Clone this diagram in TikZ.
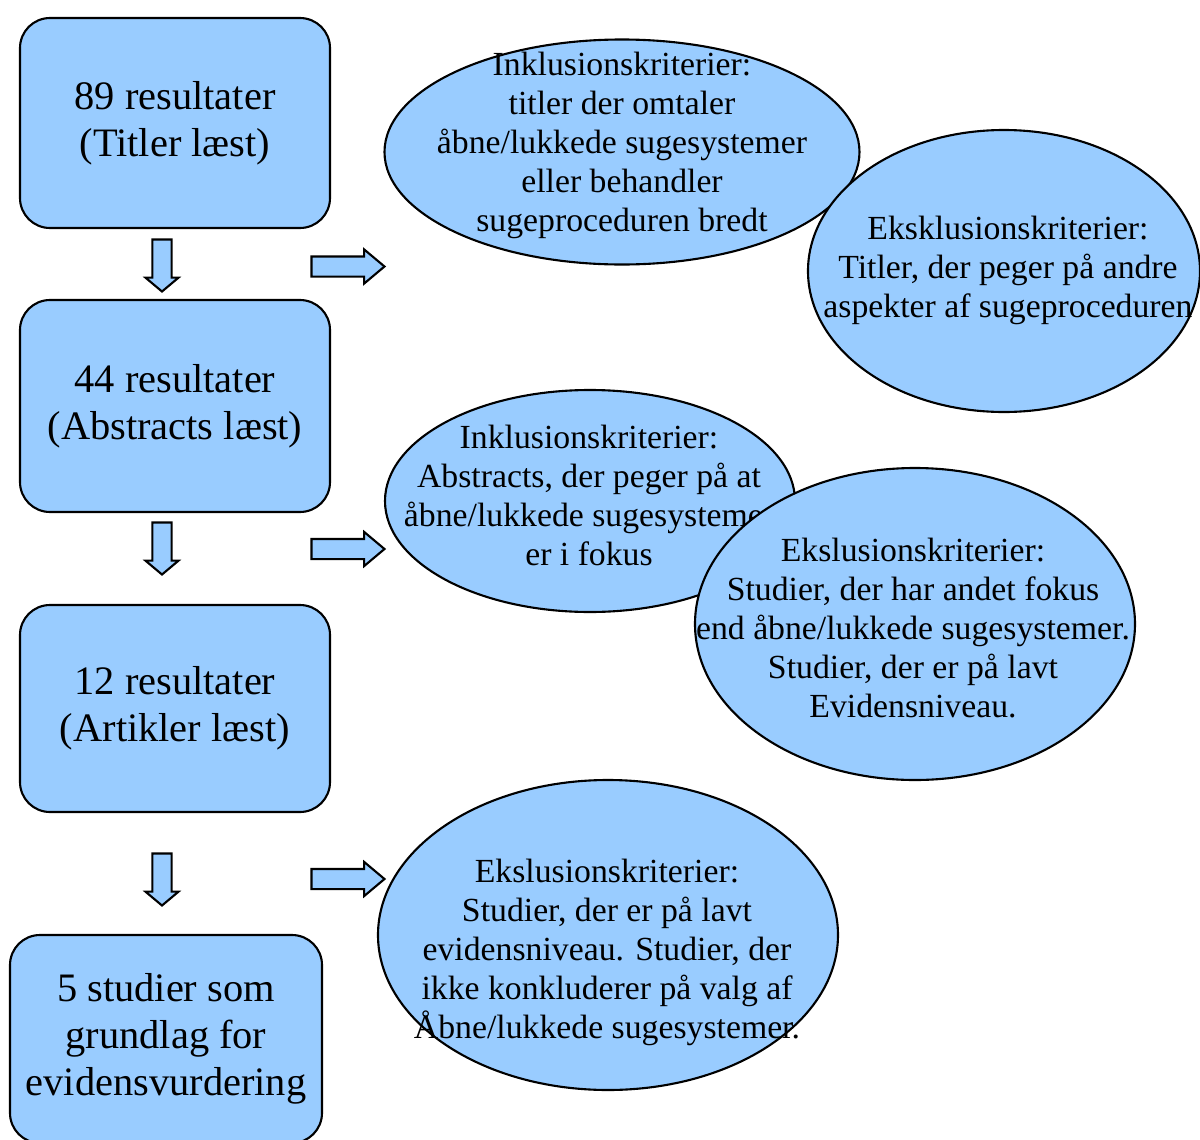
\documentclass[tikz,border=0pt]{standalone}
\usepackage{fontspec}
\setmainfont{Liberation Serif}
\usetikzlibrary{shapes.geometric,shapes.arrows}
\definecolor{boxblue}{HTML}{99CCFF}
\tikzset{
	resbox/.style={draw=black, line width=0.6pt, fill=boxblue, rounded corners=0.3cm, minimum width=3.1cm, align=center, font=\fontsize{11.5}{13.4}\selectfont},
	critell/.style={draw=black, line width=0.6pt, fill=boxblue, ellipse, inner sep=0pt},
	crittext/.style={align=center, inner sep=0pt, font=\fontsize{9.6}{11.1}\selectfont},
	downarr/.style={single arrow, draw=black, line width=0.6pt, fill=boxblue, rotate=-90, inner xsep=0pt, inner ysep=0.085cm, single arrow head extend=0.07cm, single arrow tip angle=100, minimum height=0.52cm},
	rightarr/.style={single arrow, draw=black, line width=0.6pt, fill=boxblue, inner xsep=0pt, inner ysep=0.09cm, single arrow head extend=0.07cm, single arrow tip angle=80, minimum height=0.73cm}
}
\begin{document}
\begin{tikzpicture}
	\useasboundingbox (0,0) rectangle (12,-11.4);
	\node [resbox, minimum height=2.1cm] (titler) at (1.75,-1.23) {89 resultater\\(Titler læst)};
	\node [resbox, minimum height=2.12cm] (abstracts) at (1.75,-4.06) {44 resultater\\(Abstracts læst)};
	\node [resbox, minimum height=2.07cm] (artikler) at (1.75,-7.085) {12 resultater\\(Artikler læst)};
	\node [resbox, minimum width=3.12cm, minimum height=2.08cm] (studier) at (1.66,-10.39) {5 studier som\\grundlag for\\evidensvurdering};
	\node [downarr] (ned1) at (1.62,-2.615) {};
	\node [downarr] (ned2) at (1.62,-5.445) {};
	\node [downarr] (ned3) at (1.62,-8.755) {};
	\node [rightarr] (hoejre1) at (3.42,-2.665) {};
	\node [rightarr] (hoejre2) at (3.42,-5.49) {};
	\node [rightarr] (hoejre3) at (3.42,-8.79) {};
	\node [critell, minimum width=4.75cm, minimum height=2.25cm] (inkl1) at (6.22,-1.52) {};
	\node [crittext] (inkl1tekst) at (6.22,-1.45) {Inklusionskriterier:\\titler der omtaler\\åbne/lukkede sugesystemer\\eller behandler\\sugeproceduren bredt};
	\node [critell, minimum width=3.92cm, minimum height=2.82cm] (eksk1) at (10.04,-2.71) {};
	\node [crittext] (eksk1tekst) at (10.08,-2.70) {Eksklusionskriterier:\\Titler, der peger på andre\\aspekter af sugeproceduren};
	\node [critell, minimum width=4.1cm, minimum height=2.22cm] (inkl2) at (5.90,-5.01) {};
	\node [crittext] (inkl2tekst) at (5.89,-4.95) {Inklusionskriterier:\\Abstracts, der peger på at\\åbne/lukkede sugesystemer\\er i fokus};
	\node [critell, minimum width=4.4cm, minimum height=3.12cm] (eksk2) at (9.15,-6.24) {};
	\node [crittext] (eksk2tekst) at (9.13,-6.28) {Ekslusionskriterier:\\Studier, der har andet fokus\\end åbne/lukkede sugesystemer.\\Studier, der er på lavt\\Evidensniveau.};
	\node [critell, minimum width=4.6cm, minimum height=3.1cm] (eksk3) at (6.08,-9.35) {};
	\node [crittext] (eksk3tekst) at (6.07,-9.52) {Ekslusionskriterier:\\Studier, der er på lavt\\evidensniveau. Studier, der\\ikke konkluderer på valg af\\Åbne/lukkede sugesystemer.};
\end{tikzpicture}
\end{document}
